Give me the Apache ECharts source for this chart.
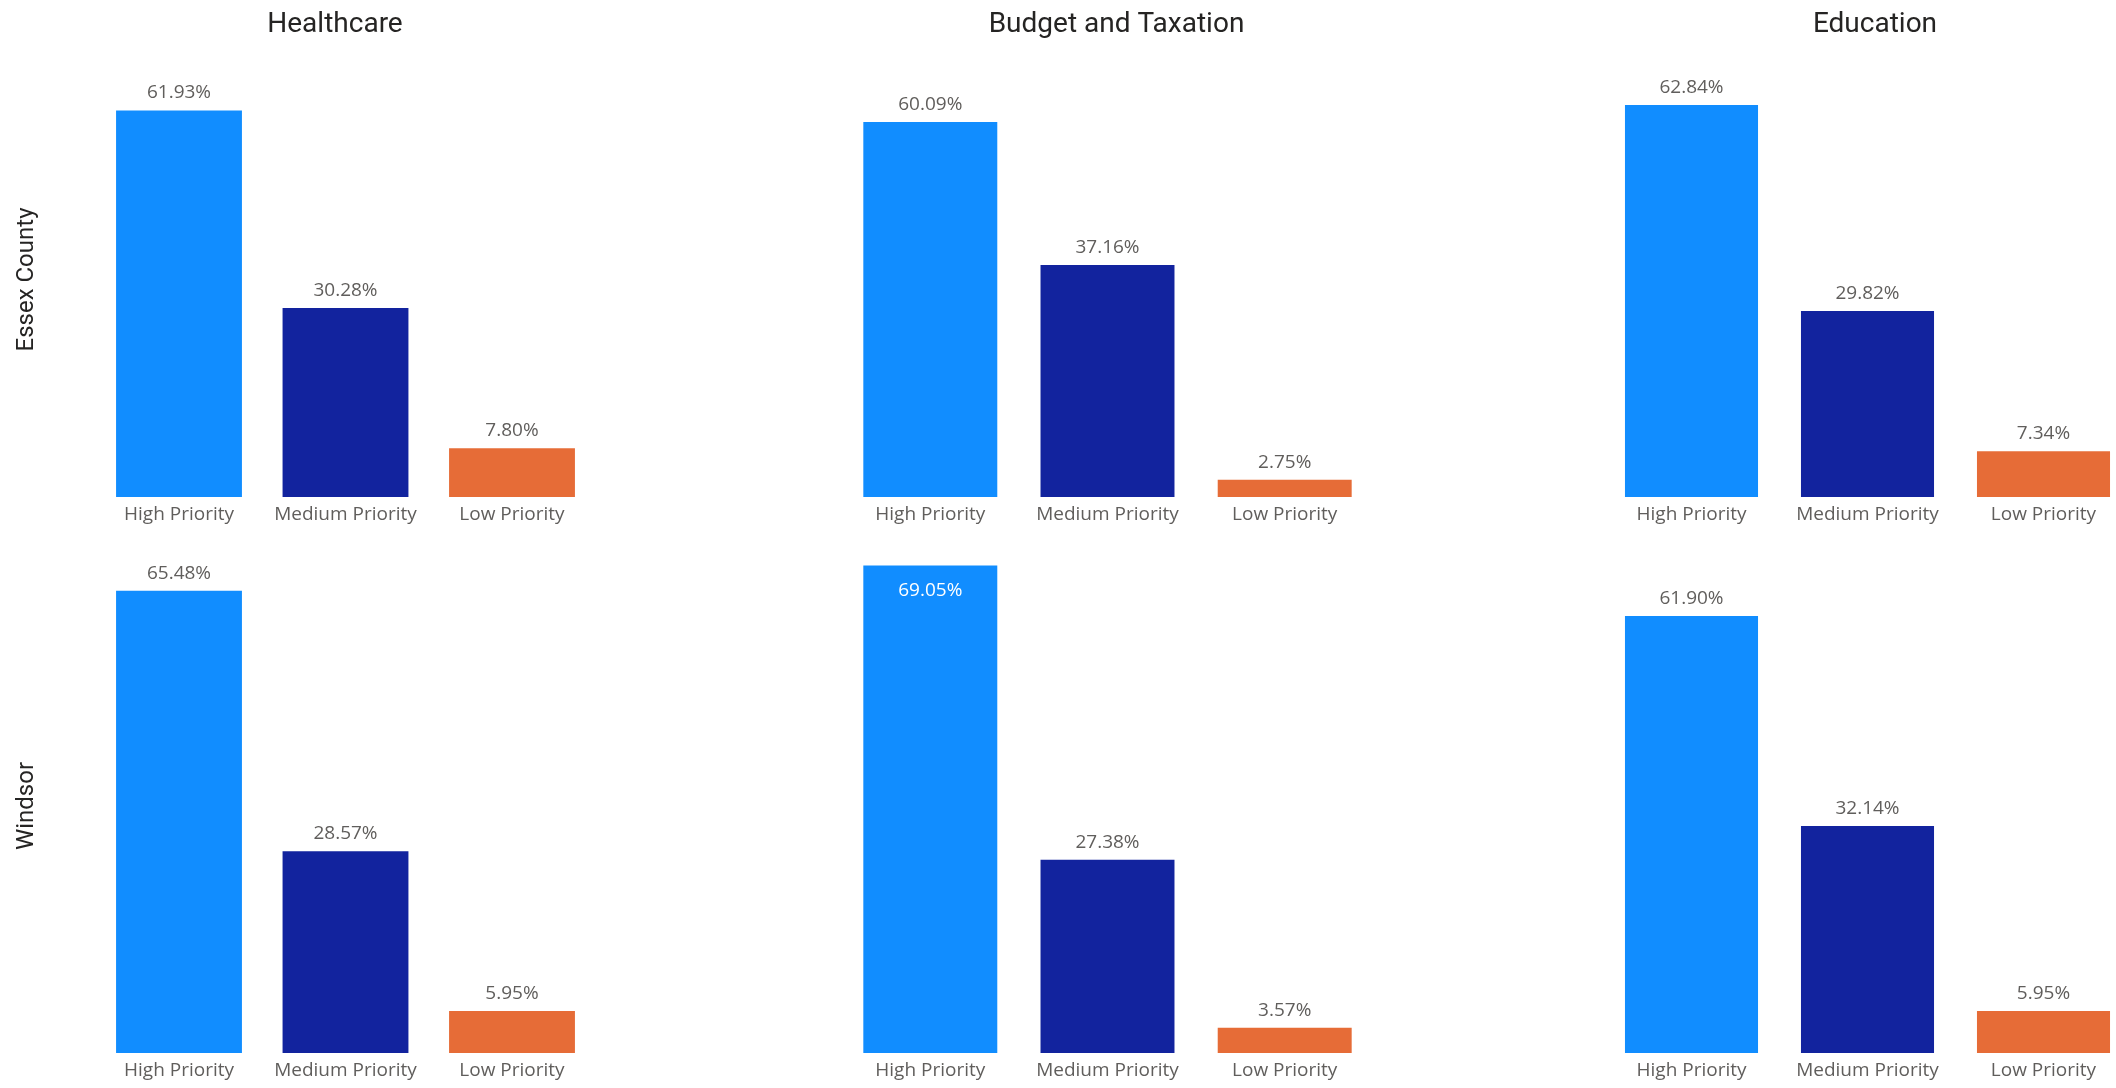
<!DOCTYPE html>
<html>
<head>
<meta charset="utf-8">
<script src="https://cdn.jsdelivr.net/npm/echarts@6/dist/echarts.min.js"></script>
<style>
html,body{margin:0;padding:0;background:#fff;overflow:hidden;width:2116px;height:1088px;}
#chart{width:2160px;height:1088px;}
</style>
</head>
<body>
<div id="chart"></div>
<script>
// ---- data ----
const categories = ['High Priority', 'Medium Priority', 'Low Priority'];
const topics = ['Healthcare', 'Budget and Taxation', 'Education'];
const regions = ['Essex County', 'Windsor'];

const essexHealthcare = [61.93, 30.28, 7.80];
const essexBudget = [60.09, 37.16, 2.75];
const essexEducation = [62.84, 29.82, 7.34];

const windsorHealthcare = [65.48, 28.57, 5.95];
const windsorBudget = [69.05, 27.38, 3.57];
const windsorEducation = [61.90, 32.14, 5.95];

const panelValues = [
  [essexHealthcare, essexBudget, essexEducation],
  [windsorHealthcare, windsorBudget, windsorEducation]
];

// ---- layout / style ----
const colors = ['#118DFF', '#12239E', '#E66C37'];
const Y_MAX = 70;
const colLayout = [
  { left: 95.75, width: 499.5, titleX: 330 },
  { left: 841.7, width: 531.6, titleX: 1111.5 },
  { left: 1603.5, width: 528, titleX: 1870 }
];
const rowLayout = [
  { top: 60.2, height: 436.8, labelY: 279.5 },
  { top: 558.8, height: 494.2, labelY: 806 }
];
const labelGrey = '#605E5C';
const titleColor = '#252423';

const grids = [], xAxes = [], yAxes = [], series = [], titles = [], graphics = [];
let idx = 0;
rowLayout.forEach((row, r) => {
  colLayout.forEach((col, c) => {
    grids.push({ left: col.left, width: col.width, top: row.top, height: row.height, containLabel: false });
    xAxes.push({
      type: 'category', gridIndex: idx, data: categories,
      axisLine: { show: false }, axisTick: { show: false },
      axisLabel: { interval: 0, color: labelGrey, fontSize: 19, fontFamily: 'Open Sans', margin: 8 }
    });
    yAxes.push({ type: 'value', gridIndex: idx, min: 0, max: Y_MAX, show: false, splitLine: { show: false } });
    const vals = panelValues[r][c];
    series.push({
      type: 'bar', xAxisIndex: idx, yAxisIndex: idx,
      barCategoryGap: '24.4%',
      data: vals.map((v, i) => {
        const inside = (Y_MAX - v) < 3;
        return {
          value: v,
          itemStyle: { color: colors[i] },
          label: inside ? { position: 'insideTop', color: '#ffffff', distance: 16 } : undefined
        };
      }),
      label: {
        show: true, position: 'top', distance: 8,
        color: labelGrey, fontSize: 19, fontFamily: 'Open Sans',
        formatter: p => p.value.toFixed(2) + '%'
      }
    });
    idx++;
  });
});

colLayout.forEach((col, c) => {
  titles.push({
    text: topics[c], left: col.titleX, top: 6, textAlign: 'center',
    textStyle: { fontFamily: 'Roboto', fontSize: 28, fontWeight: 'normal', color: titleColor }
  });
});

rowLayout.forEach((row, r) => {
  graphics.push({
    type: 'text', x: 27, y: row.labelY, rotation: Math.PI / 2,
    style: {
      text: regions[r], fontFamily: 'Roboto', fontSize: 24, fill: titleColor,
      align: 'center', verticalAlign: 'middle'
    }
  });
});

const chart = echarts.init(document.getElementById('chart'), null, { renderer: 'canvas' });
chart.setOption({
  backgroundColor: '#ffffff',
  animation: false,
  title: titles,
  grid: grids,
  xAxis: xAxes,
  yAxis: yAxes,
  series: series,
  graphic: graphics
});
</script>
</body>
</html>
